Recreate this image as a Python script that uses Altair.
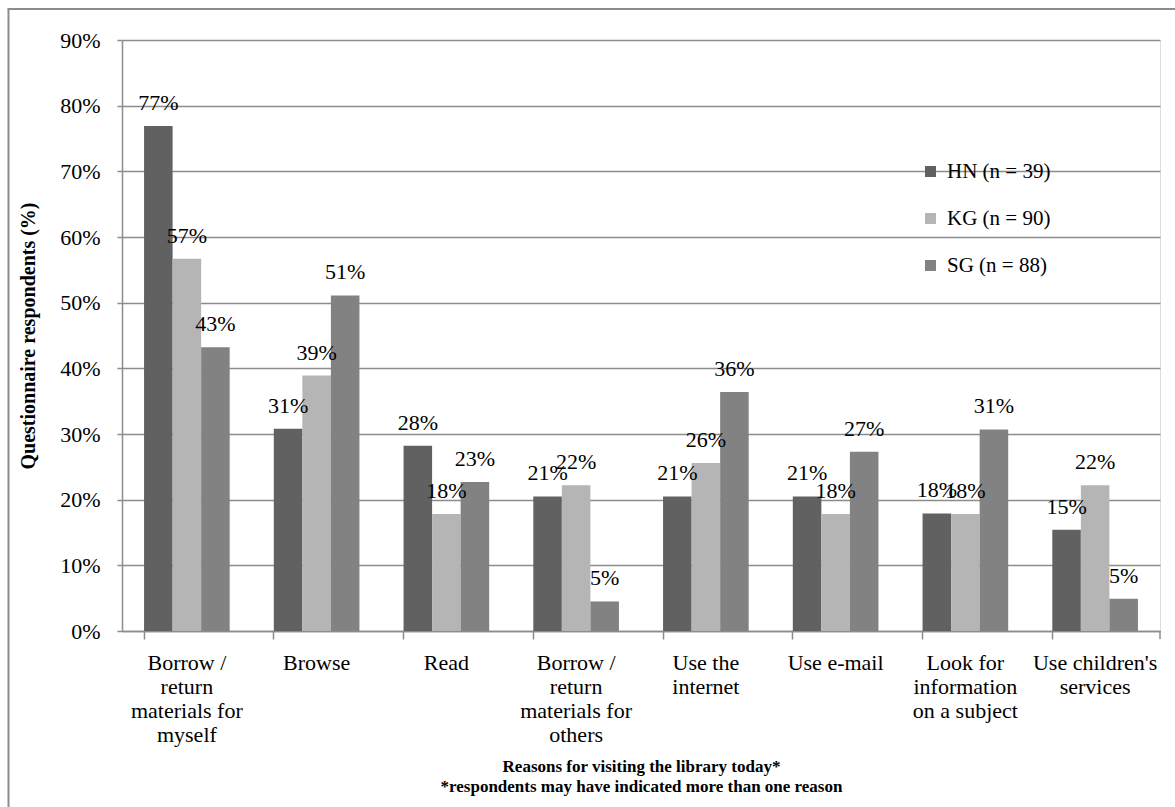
import altair as alt
import pandas as pd

# Reasons for visiting (| marks a line break in the axis label)
categories = [
    "Borrow /|return|materials for|myself",
    "Browse",
    "Read",
    "Borrow /|return|materials for|others",
    "Use the|internet",
    "Use e-mail",
    "Look for|information|on a subject",
    "Use children's|services",
]
series = ["HN (n = 39)", "KG (n = 90)", "SG (n = 88)"]
colors = ["#616161", "#b5b5b5", "#828282"]

# Share of questionnaire respondents (%)
hn = [76.9, 30.8, 28.2, 20.5, 20.5, 20.5, 17.9, 15.4]
kg = [56.7, 38.9, 17.8, 22.2, 25.6, 17.8, 17.8, 22.2]
sg = [43.2, 51.1, 22.7, 4.5, 36.4, 27.3, 30.7, 4.9]

rows = []
for name, vals in zip(series, [hn, kg, sg]):
    for cat, v in zip(categories, vals):
        rows.append({"reason": cat, "group": name, "pct": v})
df = pd.DataFrame(rows)

W, H = 1038, 591
FONT = "Liberation Serif"
GRAY = "#8c8c8c"

x_enc = alt.X(
    "reason:N",
    sort=categories,
    scale=alt.Scale(paddingInner=0.34, paddingOuter=0.17),
    axis=alt.Axis(
        title=["Reasons for visiting the library today*",
               "*respondents may have indicated more than one reason"],
        titleFont=FONT, titleFontSize=17, titleFontWeight="bold",
        titleColor="black", titleLineHeight=20,
        titleBaseline="top", titleY=127,
        labelExpr="split(datum.label, '|')",
        labelAngle=0, labelFont=FONT, labelFontSize=22, labelColor="black",
        labelLineHeight=24, labelBaseline="top", labelPadding=13,
        bandPosition=0, tickSize=8, tickColor=GRAY, tickWidth=1.5,
        domainColor=GRAY, domainWidth=1.5, grid=False,
    ),
)
y_enc = alt.Y(
    "pct:Q",
    scale=alt.Scale(domain=[0, 90], nice=False),
    axis=alt.Axis(
        title="Questionnaire respondents (%)",
        titleFont=FONT, titleFontSize=20, titleFontWeight="bold",
        titleColor="black", titleAngle=-90, titleX=-94, titleY=H / 2,
        titleAlign="center", titleBaseline="middle",
        values=list(range(0, 91, 10)),
        labelExpr="datum.value + '%'",
        labelFont=FONT, labelFontSize=22, labelColor="black",
        labelPadding=17, tickSize=5, tickColor=GRAY, tickWidth=1.5,
        domainColor=GRAY, domainWidth=1.5,
        gridColor=GRAY, gridWidth=1.5,
    ),
)

bars = alt.Chart(df).mark_bar().encode(
    x=x_enc,
    xOffset=alt.XOffset("group:N", sort=series),
    y=y_enc,
    color=alt.Color(
        "group:N",
        scale=alt.Scale(domain=series, range=colors),
        legend=alt.Legend(
            title=None, orient="none", legendX=798, legendY=121,
            symbolType="square", symbolSize=121, symbolStrokeWidth=0,
            labelFont=FONT, labelFontSize=21, labelColor="black",
            labelOffset=6, rowPadding=25, padding=0,
        ),
    ),
)

labels = alt.Chart(df).transform_calculate(
    txt="format(datum.pct, '.0f') + '%'"
).mark_text(
    baseline="middle", dy=-23, font=FONT, fontSize=22, color="black"
).encode(
    x=alt.X("reason:N", sort=categories),
    xOffset=alt.XOffset("group:N", sort=series),
    y="pct:Q",
    text="txt:N",
)

one = alt.Data(values=[{}])
# closing tick at the right end of the category axis
end_tick = alt.Chart(one).mark_rule(color=GRAY, strokeWidth=1.5).encode(
    x=alt.value(W), y=alt.value(H), y2=alt.value(H + 8)
)
# surrounding frame of the figure
frame_left = alt.Chart(one).mark_rule(color=GRAY, strokeWidth=2).encode(
    x=alt.value(-113.5), y=alt.value(-31), y2=alt.value(800)
)
frame_top = alt.Chart(one).mark_rule(color=GRAY, strokeWidth=2).encode(
    x=alt.value(-114.5), x2=alt.value(1100), y=alt.value(-31)
)

chart = alt.layer(bars, labels, end_tick, frame_left, frame_top).properties(
    width=W, height=H,
    autosize=alt.AutoSizeParams(type="none"),
    padding={"left": 122, "top": 40, "right": 15, "bottom": 176},
).configure_view(stroke=None).configure(background="white")

chart.save("out.html", embed_options={"renderer": "svg", "actions": False})
